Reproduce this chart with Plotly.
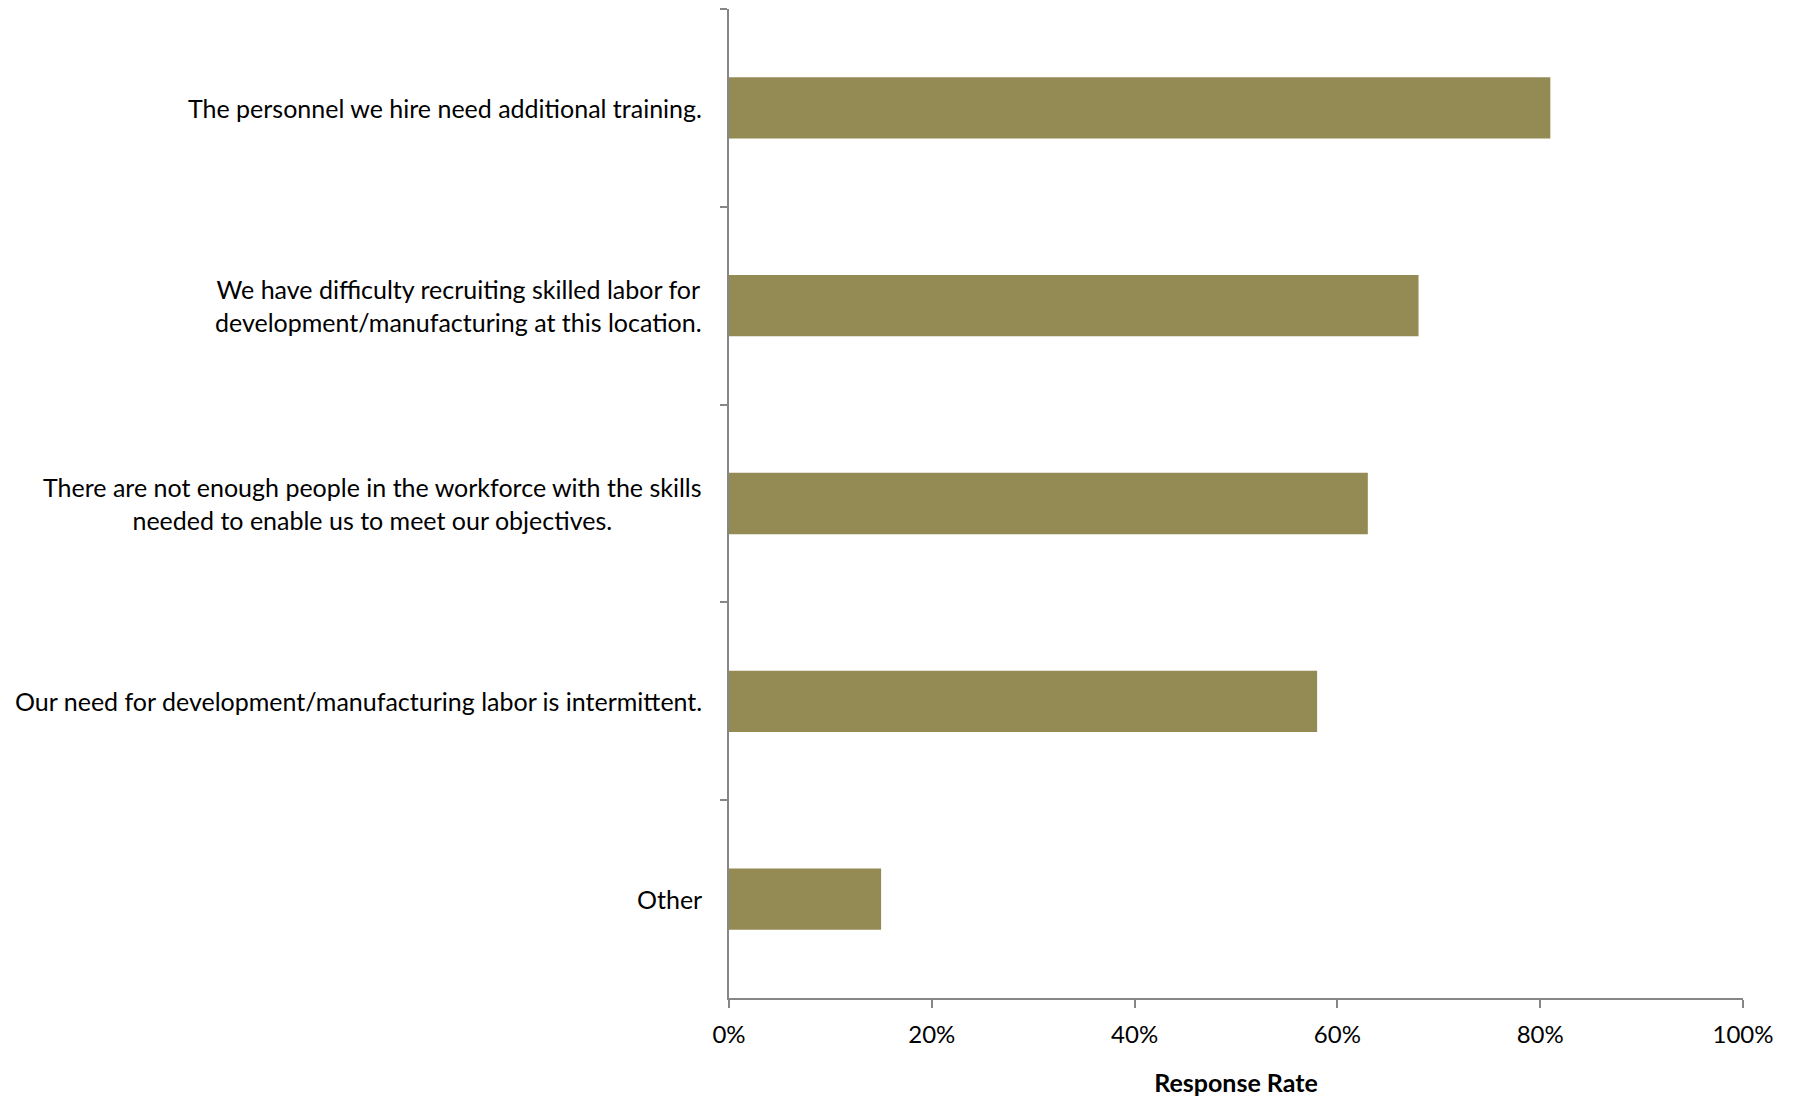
import plotly.graph_objects as go

# Survey responses: share of respondents agreeing with each statement
categories = [
    "The personnel we hire need additional training.",
    "We have difficulty recruiting skilled labor for<br>development/manufacturing at this location.",
    "There are not enough people in the workforce with the skills<br>needed to enable us to meet our objectives.",
    "Our need for development/manufacturing labor is intermittent.",
    "Other",
]
response_rate = [81, 68, 63, 58, 15]
x_tick_values = [0, 20, 40, 60, 80, 100]
x_tick_labels = ["0%", "20%", "40%", "60%", "80%", "100%"]

BAR_COLOR = "#948A54"
AXIS_COLOR = "#868686"
FONT = "Lato, Calibri, 'Open Sans', sans-serif"

fig = go.Figure(
    go.Bar(
        x=response_rate,
        y=categories,
        orientation="h",
        marker=dict(color=BAR_COLOR, line=dict(width=0)),
        hoverinfo="x+y",
    )
)

# Category labels drawn as centred multi-line annotations to the left of the axis
for cat in categories:
    fig.add_annotation(
        x=0, xref="paper", y=cat, yref="y",
        text=cat, showarrow=False,
        xanchor="right", yanchor="middle", align="center",
        xshift=-25,
        font=dict(family=FONT, size=25, color="#000000"),
    )

fig.update_layout(
    width=1793, height=1098,
    margin=dict(l=729, r=50, t=9, b=100, autoexpand=False),
    paper_bgcolor="white", plot_bgcolor="white",
    bargap=0.69,
    showlegend=False,
    font=dict(family=FONT, size=24, color="#000000"),
    xaxis=dict(
        range=[0, 100],
        tickvals=x_tick_values, ticktext=x_tick_labels,
        showline=True, linecolor=AXIS_COLOR, linewidth=1.5,
        ticks="outside", ticklen=8, tickcolor=AXIS_COLOR, tickwidth=1.5,
        ticklabelstandoff=6,
        showgrid=False, zeroline=False,
        tickfont=dict(family=FONT, size=24, color="#000000"),
        title=dict(text="<b>Response Rate</b>", standoff=28,
                   font=dict(family=FONT, size=25, color="#000000")),
    ),
    yaxis=dict(
        categoryorder="array", categoryarray=categories,
        autorange="reversed",
        showline=True, linecolor=AXIS_COLOR, linewidth=1.5,
        ticks="outside", ticklen=7, tickcolor=AXIS_COLOR, tickwidth=1.5,
        tickson="boundaries",
        showticklabels=False, showgrid=False, zeroline=False,
    ),
)

fig.write_html("out.html")
